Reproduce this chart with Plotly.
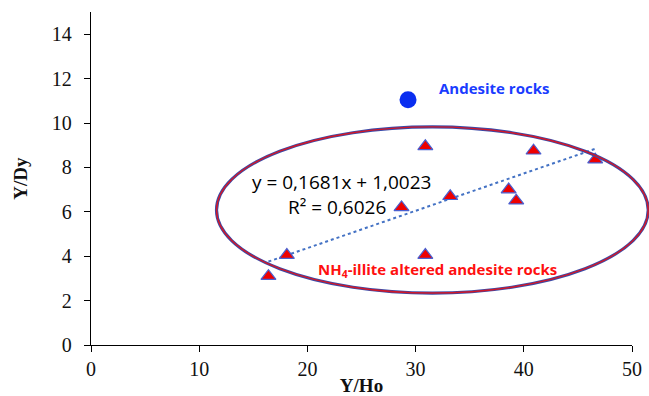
import plotly.graph_objects as go

# Data
altered_x = [16.4, 18.1, 30.9, 40.9, 46.6, 38.6, 39.3, 33.2, 28.7, 30.9]
altered_y = [3.1, 4.05, 8.95, 8.75, 8.35, 7.0, 6.5, 6.7, 6.2, 4.05]
andesite_x = [29.3]
andesite_y = [11.05]
trend_slope = 0.1681
trend_intercept = 1.0023
x_ticks = [0, 10, 20, 30, 40, 50]
y_ticks = [0, 2, 4, 6, 8, 10, 12, 14]

tx = [min(altered_x), max(altered_x)]
ty = [trend_slope * v + trend_intercept for v in tx]

fig = go.Figure()
fig.add_trace(go.Scatter(x=tx, y=ty, mode="lines",
                         line=dict(color="#4472C4", width=2, dash="dot"),
                         hoverinfo="skip", showlegend=False))
fig.add_trace(go.Scatter(x=altered_x, y=altered_y, mode="markers",
                         marker=dict(symbol="triangle-up", size=13, color="#EE0000",
                                     line=dict(color="#4A5FD0", width=1.2)),
                         showlegend=False))
fig.add_trace(go.Scatter(x=andesite_x, y=andesite_y, mode="markers",
                         marker=dict(symbol="circle", size=17, color="#0A2EF0",
                                     line=dict(width=0)),
                         showlegend=False))

# ellipse (paper coords)
for col, w in [("#3A4AA8", 3.2), ("#D01828", 1.4)]:
    fig.add_shape(type="circle", xref="paper", yref="paper",
                  x0=0.232, x1=1.03, y0=0.156, y1=0.655,
                  line=dict(color=col, width=w), layer="above")

fig.add_annotation(x=0.64, y=0.772, xref="paper", yref="paper", xanchor="left", yanchor="middle",
                   text="<b>Andesite rocks</b>", showarrow=False,
                   font=dict(family="Open Sans", size=15, color="#1A3CFF"))
fig.add_annotation(x=0.416, y=0.225, xref="paper", yref="paper", xanchor="left", yanchor="middle",
                   text="<b>NH<sub>4</sub>-illite altered andesite rocks</b>", showarrow=False,
                   font=dict(family="Open Sans", size=15, color="#FF1010"))
fig.add_annotation(x=0.632, y=0.49, xref="paper", yref="paper", xanchor="right", yanchor="middle",
                   text="y = 0,1681x + 1,0023", showarrow=False,
                   font=dict(family="Open Sans", size=19, color="#000000"))
fig.add_annotation(x=0.549, y=0.415, xref="paper", yref="paper", xanchor="right", yanchor="middle",
                   text="R² = 0,6026", showarrow=False,
                   font=dict(family="Open Sans", size=19, color="#000000"))
# y-axis title
fig.add_annotation(x=-0.131, y=0.5, xref="paper", yref="paper", xanchor="center", yanchor="middle",
                   text="<b>Y/Dy</b>", textangle=-90, showarrow=False,
                   font=dict(family="Liberation Serif", size=19, color="#111111"))

axis_common = dict(showgrid=False, zeroline=False, showline=True, linecolor="black",
                   linewidth=1.3, ticks="outside", ticklen=6, tickcolor="black",
                   tickwidth=1.3, automargin=False,
                   tickfont=dict(family="Liberation Serif", size=20, color="#111111"))
fig.update_xaxes(range=[0, 50], tickvals=x_ticks, **axis_common,
                 title=dict(text="<b>Y/Ho</b>", standoff=0,
                            font=dict(family="Liberation Serif", size=19, color="#111111")))
fig.update_yaxes(range=[0, 15], tickvals=y_ticks, ticklabelstandoff=8, **axis_common)

fig.update_layout(width=649, height=396, margin=dict(l=91, r=17, t=12, b=51),
                  plot_bgcolor="white", paper_bgcolor="white")
fig.write_html("out.html")
